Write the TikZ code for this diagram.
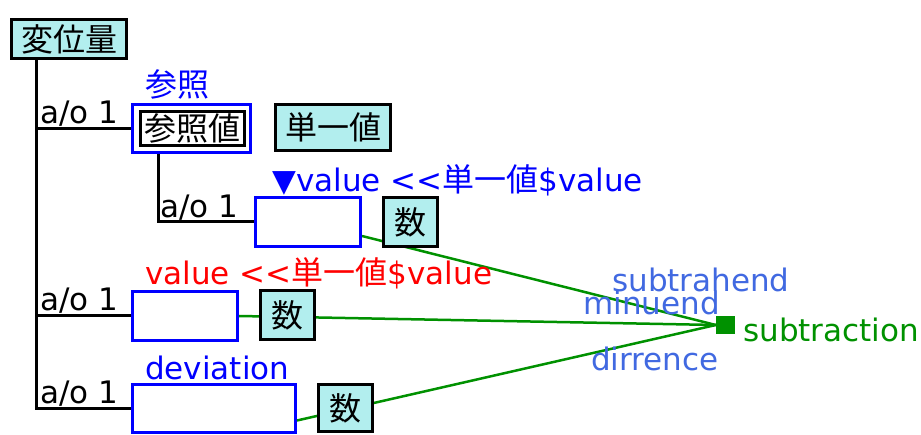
\documentclass[tikz,border=0pt]{standalone}
\usepackage{fontspec}
\setmainfont{DejaVu Sans}
\newfontfamily\jp{Noto Sans CJK JP}
\usetikzlibrary{backgrounds}
\definecolor{cyanfill}{RGB}{178,238,238}
\definecolor{lblue}{RGB}{65,105,225}
\definecolor{dgreen}{RGB}{0,145,0}
\newcommand{\jpf}{\fontsize{32}{38}\selectfont\jp}
\begin{document}
\begin{tikzpicture}[x=1pt,y=-1pt,
  every node/.style={font=\fontsize{31}{37}\selectfont, inner sep=0pt},
  cls/.style={draw=black, line width=3pt, fill=cyanfill, font=\jpf},
  slot/.style={draw=blue, line width=3pt, fill=white},
  tree/.style={draw=black, line width=3pt},
  rel/.style={draw=dgreen, line width=2.5pt},
  lbl/.style={anchor=base west},
  role/.style={anchor=base west, text=lblue},
]
\useasboundingbox (0,0) rectangle (921,435);

% class nodes
\node[cls, minimum width=115pt, minimum height=39pt] (hen) at (69,39) {変位量};
\node[slot, minimum width=118pt, minimum height=48pt] (ref) at (191.5,128.5) {};
\node[draw=black, line width=3pt, fill=white, minimum width=104pt, minimum height=34pt,
      font=\jpf] (refin) at (192.5,128.5) {参照値};
\node[cls, minimum width=115pt, minimum height=46pt] (single) at (333,127.5) {単一値};

\node[slot, minimum width=105pt, minimum height=49pt] (e1) at (308,222) {};
\node[cls, minimum width=54pt, minimum height=49pt] (n1) at (410.5,222) {数};
\node[slot, minimum width=105pt, minimum height=49pt] (e2) at (185,316) {};
\node[cls, minimum width=54pt, minimum height=49pt] (n2) at (287.5,315) {数};
\node[slot, minimum width=163pt, minimum height=48pt] (e3) at (214,408.5) {};
\node[cls, minimum width=54pt, minimum height=47pt] (n3) at (345.5,408) {数};

\node[fill=dgreen, minimum width=19pt, minimum height=18pt] (sq) at (725.5,325) {};

% labels
\node[lbl, text=blue, font=\jpf] (lref) at (145,97) {参照};
\node[lbl] (ao1) at (40,124) {a/o 1};
\node[lbl] (ao2) at (160,218) {a/o 1};
\node[lbl] (ao3) at (40,311) {a/o 1};
\node[lbl] (ao4) at (40,404) {a/o 1};
\node[lbl, text=blue] (lv1) at (272,192) {▼value <{}<{\jpf 単一値}\$value};
\node[lbl, text=red] (lv2) at (145,285) {value <{}<{\jpf 単一値}\$value};
\node[lbl, text=blue] (ldev) at (145,380) {deviation};
\node[role] (lsub) at (612,292) {subtrahend};
\node[role] (lmin) at (583,315) {minuend};
\node[role] (ldif) at (591,371) {dirrence};
\node[lbl, text=dgreen] (lop) at (743,342) {subtraction};

\coordinate (tb) at (36,410);

\begin{pgfonlayer}{background}
\draw[tree] ([xshift=-33pt]hen.south) -- (tb);
\draw[tree] (tb |- ref.west) -- (ref.west);
\draw[tree] (tb |- e2.west) -- (e2.west);
\draw[tree] (tb |- e3.west) -- (e3.west);
\draw[tree] ([xshift=-33.5pt]ref.south) |- (e1.west);
\draw[rel] ([yshift=-14pt]e1.east) -- (sq.west);
\draw[rel] (e2.east) -- (sq.west);
\draw[rel] ([yshift=-12pt]e3.east) -- (sq.west);
\end{pgfonlayer}
\end{tikzpicture}
\end{document}
